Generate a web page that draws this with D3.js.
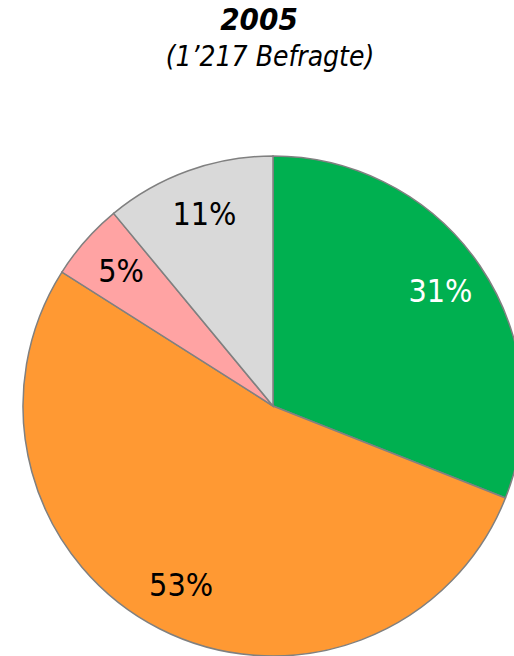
<!DOCTYPE html>
<html>
<head>
<meta charset="utf-8">
<script src="https://cdn.jsdelivr.net/npm/d3@7"></script>
<style>
  body { margin: 0; background: #fff; }
  svg { display: block; }
</style>
</head>
<body>
<div id="chart"></div>
<script>
var labels = ["Ja", "Nein", "Teils", "Weiss nicht"];
var values = [31, 53, 5, 11];
var colors = ["#00b050", "#ff9933", "#ffa3a3", "#d9d9d9"];
var textColors = ["#fff", "#000", "#000", "#000"];
var title = "2005";
var subtitle = "(1\u2019217 Befragte)";

var w = 514, h = 656;
var radius = 250;
var cx = 273, cy = 406;
var font = "DejaVu Sans Condensed, DejaVu Sans, sans-serif";

var svg = d3.select("#chart")
  .append("svg")
  .attr("width", w)
  .attr("height", h);

svg.append("text")
  .attr("x", 259)
  .attr("y", 30)
  .attr("text-anchor", "middle")
  .attr("font-family", font)
  .attr("font-weight", "bold")
  .attr("font-style", "italic")
  .attr("font-size", 31)
  .text(title);

svg.append("text")
  .attr("x", 270)
  .attr("y", 66)
  .attr("text-anchor", "middle")
  .attr("font-family", font)
  .attr("font-style", "italic")
  .attr("font-size", 28)
  .text(subtitle);

var g = svg.append("g")
  .attr("transform", "translate(" + cx + "," + cy + ")");

var pie = d3.pie().sort(null).value(function(d) { return d; });
var arc = d3.arc().innerRadius(0).outerRadius(radius);
var labelArc = d3.arc().innerRadius(radius * 0.81).outerRadius(radius * 0.81);

var arcs = pie(values);

g.selectAll("path")
  .data(arcs)
  .enter()
  .append("path")
  .attr("d", arc)
  .attr("fill", function(d, i) { return colors[i]; })
  .attr("stroke", "#808080")
  .attr("stroke-width", 1.5);

g.selectAll("text")
  .data(arcs)
  .enter()
  .append("text")
  .attr("transform", function(d) {
    var c = labelArc.centroid(d);
    return "translate(" + c[0] + "," + c[1] + ")";
  })
  .attr("text-anchor", "middle")
  .attr("dy", "0.3em")
  .attr("font-family", font)
  .attr("font-size", 32)
  .attr("fill", function(d, i) { return textColors[i]; })
  .text(function(d) { return d.data + "%"; });
</script>
</body>
</html>
